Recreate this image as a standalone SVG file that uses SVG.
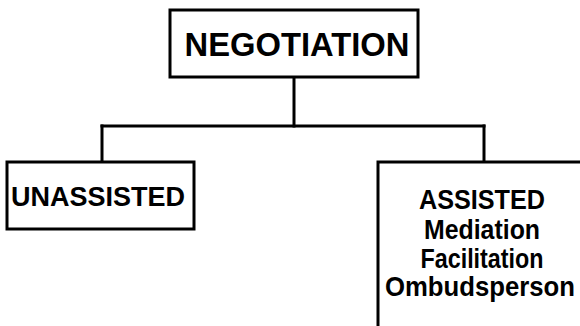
<svg xmlns="http://www.w3.org/2000/svg" width="580" height="326" viewBox="0 0 580 326">
<style>
.box{fill:#fff;stroke:#000;stroke-width:3}
.ln{fill:none;stroke:#000;stroke-width:3;stroke-linecap:square}
.t{font-family:"Liberation Sans",Arial,Helvetica,sans-serif;font-weight:bold;fill:#000;text-anchor:middle}
</style>
<rect width="580" height="326" fill="#fff"/>
<g id="connectors">
<path class="ln" d="M294,78 V126"/>
<path class="ln" d="M102,126 H484"/>
<path class="ln" d="M102,126 V162"/>
<path class="ln" d="M484,126 V162"/>
</g>
<g id="negotiation">
<rect class="box" x="170" y="10" width="248" height="67"/>
<text class="t" x="297" y="56" font-size="34" textLength="225" lengthAdjust="spacingAndGlyphs">NEGOTIATION</text>
</g>
<g id="unassisted">
<rect class="box" x="7" y="162" width="187" height="67"/>
<text class="t" x="98" y="206" font-size="28" textLength="174" lengthAdjust="spacingAndGlyphs">UNASSISTED</text>
</g>
<g id="assisted">
<rect class="box" x="378" y="162" width="230" height="200"/>
<text class="t" x="482" y="209" font-size="27" textLength="126" lengthAdjust="spacingAndGlyphs">ASSISTED</text>
<text class="t" x="482" y="239" font-size="27" textLength="116" lengthAdjust="spacingAndGlyphs">Mediation</text>
<text class="t" x="482" y="268" font-size="27" textLength="123" lengthAdjust="spacingAndGlyphs">Facilitation</text>
<text class="t" x="480" y="296" font-size="27" textLength="190" lengthAdjust="spacingAndGlyphs">Ombudsperson</text>
</g>
</svg>
